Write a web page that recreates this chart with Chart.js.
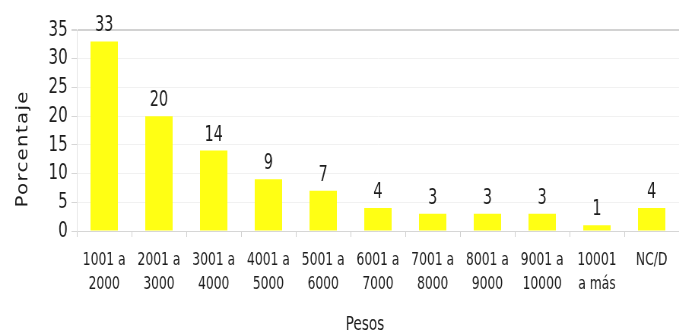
<!DOCTYPE html>
<html>
<head>
<meta charset="utf-8">
<script src="https://cdn.jsdelivr.net/npm/chart.js@4/dist/chart.umd.min.js"></script>
<style>
  html, body { margin: 0; padding: 0; background: #ffffff; }
  #wrap { width: 679px; height: 334px; position: relative; overflow: hidden; }
  /* the chart is laid out on a wider canvas and narrowed to give condensed lettering */
  #c { transform: scaleX(0.7604); transform-origin: 0 0; display: block; }
</style>
</head>
<body>
<div id="wrap"><canvas id="c" width="893" height="334"></canvas></div>
<script>
// Income brackets (pesos) and share of respondents (%)
const categories = [
  ['1001 a', '2000'], ['2001 a', '3000'], ['3001 a', '4000'], ['4001 a', '5000'],
  ['5001 a', '6000'], ['6001 a', '7000'], ['7001 a', '8000'], ['8001 a', '9000'],
  ['9001 a', '10000'], ['10001', 'a más'], ['NC/D']
];
const percentages = [33, 20, 14, 9, 7, 4, 3, 3, 3, 1, 4];
const yTicks = [0, 5, 10, 15, 20, 25, 30, 35];
const yTitle = 'Porcentaje';
const xTitle = 'Pesos';

const FONT = '"DejaVu Sans Condensed", "DejaVu Sans", sans-serif';
const INK = '#1c1c1c';

// Writes each bar's value above it plus both axis titles
const annotations = {
  id: 'annotations',
  afterDatasetsDraw(chart) {
    const ctx = chart.ctx;
    const meta = chart.getDatasetMeta(0);
    const values = chart.data.datasets[0].data;
    ctx.save();
    ctx.font = '21px ' + FONT;
    ctx.fillStyle = INK;
    ctx.textAlign = 'center';
    ctx.textBaseline = 'alphabetic';
    meta.data.forEach((bar, i) => {
      ctx.fillText(String(values[i]), bar.x, bar.y - 10);
    });
    ctx.restore();

    const area = chart.chartArea;
    // vertical title, letter-spaced
    ctx.save();
    ctx.font = '22px ' + FONT;
    ctx.fillStyle = INK;
    const plain = ctx.measureText(yTitle).width;
    const spacing = Math.max(0, (116 - plain) / (yTitle.length - 1));
    ctx.letterSpacing = spacing.toFixed(2) + 'px';
    ctx.translate(30, (area.top + area.bottom) / 2 + 19);
    ctx.rotate(-Math.PI / 2);
    ctx.textAlign = 'center';
    ctx.textBaseline = 'middle';
    ctx.fillText(yTitle, spacing / 2, 0);
    ctx.restore();

    // horizontal title
    ctx.save();
    ctx.font = '20px ' + FONT;
    ctx.fillStyle = INK;
    ctx.textAlign = 'center';
    ctx.textBaseline = 'alphabetic';
    ctx.fillText(xTitle, (area.left + area.right) / 2 - 17, 330);
    ctx.restore();
  }
};

new Chart(document.getElementById('c'), {
  type: 'bar',
  data: {
    labels: categories,
    datasets: [{
      data: percentages,
      backgroundColor: '#ffff14',
      borderWidth: 0,
      barPercentage: 0.5,
      categoryPercentage: 1.0
    }]
  },
  options: {
    responsive: false,
    animation: false,
    devicePixelRatio: 1,
    layout: { padding: { top: 30, right: 0, left: 0, bottom: 0 } },
    plugins: { legend: { display: false }, tooltip: { enabled: false } },
    scales: {
      x: {
        grid: {
          offset: true,
          drawOnChartArea: false,
          color: '#cfcfcf',
          tickLength: 6
        },
        border: { color: '#d6d6d6' },
        ticks: {
          color: INK,
          font: { family: FONT, size: 18, lineHeight: 1.333 },
          maxRotation: 0,
          autoSkip: false,
          padding: 11
        },
        afterFit(scale) { scale.height = 103; }
      },
      y: {
        min: 0,
        max: 35,
        afterBuildTicks(scale) { scale.ticks = yTicks.map(v => ({ value: v })); },
        grid: {
          color: ctx => ctx.tick && ctx.tick.value === 35 ? '#d2d2d2' : (ctx.tick && ctx.tick.value === 0 ? '#d6d6d6' : '#f1f1f1'),
          lineWidth: ctx => ctx.tick && ctx.tick.value === 35 ? 2 : 1,
          tickLength: 7,
          tickColor: '#d6d6d6'
        },
        border: { color: '#e2e2e2' },
        ticks: {
          color: INK,
          font: { family: FONT, size: 22 },
          padding: 5,
          autoSkip: false
        },
        afterFit(scale) { scale.width = 101; }
      }
    }
  },
  plugins: [annotations]
});
</script>
</body>
</html>
